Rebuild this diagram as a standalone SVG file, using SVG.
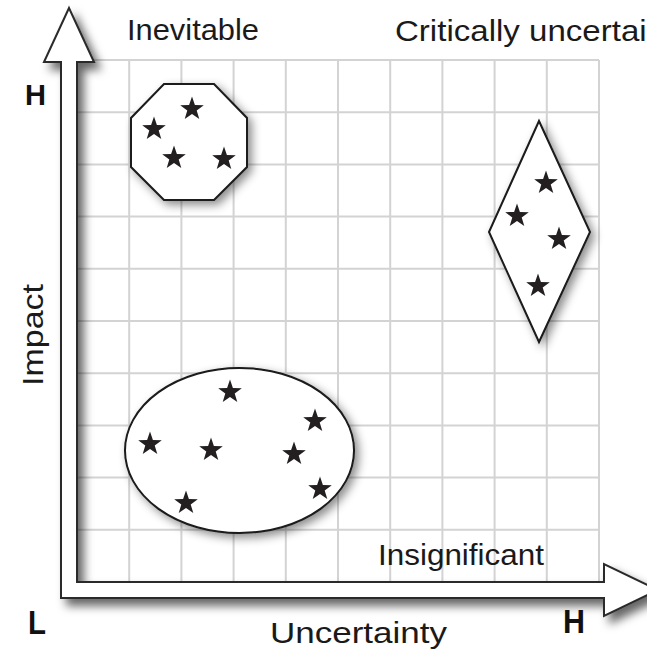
<svg xmlns="http://www.w3.org/2000/svg" width="647" height="657" viewBox="0 0 647 657">
  <style>
    .grid line { stroke: #d3d3d3; stroke-width: 2; }
    .shape { fill: #ffffff; stroke: #1a1a1a; stroke-width: 2; }
    .axis { fill: #ffffff; stroke: #2a2a2a; stroke-width: 2; stroke-linejoin: miter; }
    .lbl { font-family: "Liberation Sans", Arial, sans-serif; font-size: 30px; fill: #1a1a1a; }
    .hl { font-family: "Liberation Sans", Arial, sans-serif; font-weight: bold; fill: #111111; }
    .star { fill: #231f20; }
  </style>
  <defs>
    <path id="star" d="M0,-12.4 L2.9,-4.0 L11.8,-3.83 L4.71,1.53 L7.29,10.03 L0,4.96 L-7.29,10.03 L-4.71,1.53 L-11.8,-3.83 L-2.9,-4.0 Z"/>
    <filter id="shadow" x="-30%" y="-30%" width="160%" height="160%">
      <feGaussianBlur in="SourceAlpha" stdDeviation="5"/>
      <feOffset dx="4" dy="4" result="b"/>
      <feFlood flood-color="#000000" flood-opacity="0.45"/>
      <feComposite in2="b" operator="in"/>
      <feMerge><feMergeNode/><feMergeNode in="SourceGraphic"/></feMerge>
    </filter>
    <filter id="axshadow" x="-20%" y="-20%" width="140%" height="140%">
      <feGaussianBlur in="SourceAlpha" stdDeviation="5"/>
      <feOffset dx="6" dy="7" result="b"/>
      <feFlood flood-color="#000000" flood-opacity="0.6"/>
      <feComposite in2="b" operator="in"/>
      <feMerge><feMergeNode/><feMergeNode in="SourceGraphic"/></feMerge>
    </filter>
  </defs>
  <rect width="647" height="657" fill="#ffffff"/>

  <g id="grid" class="grid">
    <line x1="77" y1="60" x2="77" y2="582"/>
    <line x1="129.2" y1="60" x2="129.2" y2="582"/>
    <line x1="181.4" y1="60" x2="181.4" y2="582"/>
    <line x1="233.6" y1="60" x2="233.6" y2="582"/>
    <line x1="285.8" y1="60" x2="285.8" y2="582"/>
    <line x1="338" y1="60" x2="338" y2="582"/>
    <line x1="390.2" y1="60" x2="390.2" y2="582"/>
    <line x1="442.4" y1="60" x2="442.4" y2="582"/>
    <line x1="494.6" y1="60" x2="494.6" y2="582"/>
    <line x1="546.8" y1="60" x2="546.8" y2="582"/>
    <line x1="599" y1="60" x2="599" y2="582"/>
    <line x1="77" y1="60" x2="599" y2="60"/>
    <line x1="77" y1="112.2" x2="599" y2="112.2"/>
    <line x1="77" y1="164.4" x2="599" y2="164.4"/>
    <line x1="77" y1="216.6" x2="599" y2="216.6"/>
    <line x1="77" y1="268.8" x2="599" y2="268.8"/>
    <line x1="77" y1="321" x2="599" y2="321"/>
    <line x1="77" y1="373.2" x2="599" y2="373.2"/>
    <line x1="77" y1="425.4" x2="599" y2="425.4"/>
    <line x1="77" y1="477.6" x2="599" y2="477.6"/>
    <line x1="77" y1="529.8" x2="599" y2="529.8"/>
    <line x1="77" y1="582" x2="599" y2="582"/>
  </g>

  <g id="connectors">
    <path class="axis" filter="url(#axshadow)" d="M69,8 L94,62 L77,62 L77,582 L604,582 L604,564 L658,590 L604,616 L604,598 L61,598 L61,62 L44,62 Z"/>
  </g>

  <g id="node-inevitable">
    <polygon class="shape" filter="url(#shadow)" points="164,84 214,84 247,118 247,167 214,200 164,200 131,167 131,118"/>
    <use href="#star" class="star" x="192" y="109"/>
    <use href="#star" class="star" x="154" y="129"/>
    <use href="#star" class="star" x="174" y="158"/>
    <use href="#star" class="star" x="224" y="159"/>
  </g>

  <g id="node-critical">
    <polygon class="shape" filter="url(#shadow)" points="539,121 590,232 539,342 489,232"/>
    <use href="#star" class="star" x="546" y="183"/>
    <use href="#star" class="star" x="517" y="216"/>
    <use href="#star" class="star" x="559" y="239"/>
    <use href="#star" class="star" x="538" y="286"/>
  </g>

  <g id="node-insignificant">
    <ellipse class="shape" filter="url(#shadow)" cx="239.5" cy="450.5" rx="114.5" ry="82.5"/>
    <use href="#star" class="star" x="230" y="392"/>
    <use href="#star" class="star" x="315" y="421"/>
    <use href="#star" class="star" x="150" y="444"/>
    <use href="#star" class="star" x="211" y="450"/>
    <use href="#star" class="star" x="294" y="454"/>
    <use href="#star" class="star" x="320" y="489"/>
    <use href="#star" class="star" x="186" y="503"/>
  </g>

  <g id="labels">
    <text class="lbl" x="127" y="40" textLength="132" lengthAdjust="spacingAndGlyphs">Inevitable</text>
    <text class="lbl" x="395" y="41" textLength="270" lengthAdjust="spacingAndGlyphs">Critically uncertain</text>
    <text class="lbl" x="378" y="565" textLength="166" lengthAdjust="spacingAndGlyphs">Insignificant</text>
    <text class="lbl" x="270" y="643" textLength="177" lengthAdjust="spacingAndGlyphs">Uncertainty</text>
    <text class="lbl" transform="translate(43,386) rotate(-90)" x="0" y="0" textLength="102" lengthAdjust="spacingAndGlyphs">Impact</text>
    <text class="hl" x="25" y="105" font-size="30" textLength="21" lengthAdjust="spacingAndGlyphs">H</text>
    <text class="hl" x="28" y="634" font-size="34" textLength="18" lengthAdjust="spacingAndGlyphs">L</text>
    <text class="hl" x="563" y="633" font-size="34" textLength="22" lengthAdjust="spacingAndGlyphs">H</text>
  </g>
</svg>
